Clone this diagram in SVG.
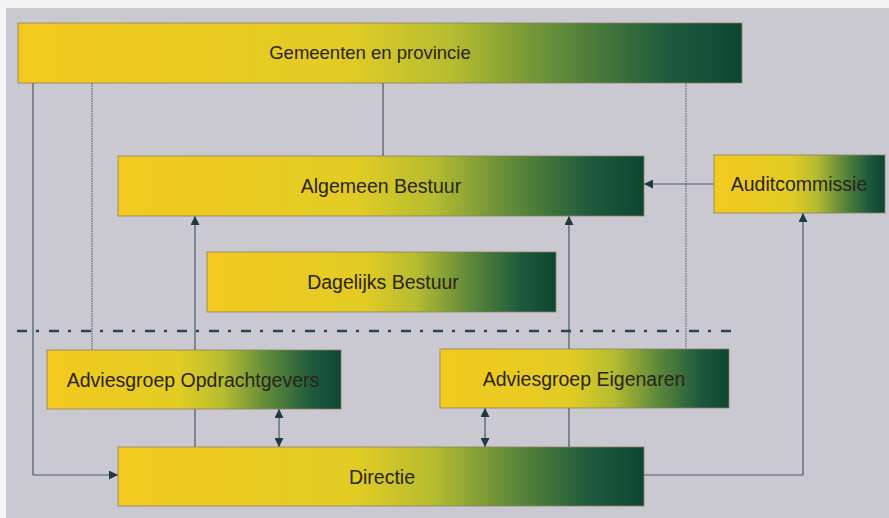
<svg xmlns="http://www.w3.org/2000/svg" width="889" height="518" viewBox="0 0 889 518">
<defs>
<linearGradient id="g" x1="0" y1="0" x2="1" y2="0">
<stop offset="0" stop-color="#f3c91f"/>
<stop offset="0.45" stop-color="#e2cc24"/>
<stop offset="0.6" stop-color="#b5bc30"/>
<stop offset="0.75" stop-color="#5f8a3a"/>
<stop offset="0.9" stop-color="#1d5a3c"/>
<stop offset="1" stop-color="#0c4632"/>
</linearGradient>
<marker id="ah" viewBox="0 0 10 10" refX="10" refY="5" markerWidth="9" markerHeight="9" markerUnits="userSpaceOnUse" orient="auto-start-reverse">
<path d="M0,0 L10,5 L0,10 Z" fill="#1f3a40"/>
</marker>
<style>
.box{fill:url(#g);stroke:#8a8060;stroke-width:0.8}
.t{font-family:"Liberation Sans",Arial,sans-serif;font-size:19.5px;fill:#2a2418;text-anchor:middle}
.c{fill:none;stroke:#4a5868;stroke-width:1.2}
.d{fill:none;stroke:#5a6878;stroke-width:1.2;stroke-dasharray:1.5 1}
.a{marker-end:url(#ah)}
.b{marker-start:url(#ah);marker-end:url(#ah)}
</style>
</defs>
<rect x="0" y="0" width="889" height="518" fill="#f4f4f6"/>
<rect x="6" y="8" width="883" height="510" fill="#cac8d0"/>
<g id="connectors">
<path class="c a" d="M33,83 V475 H118"/>
<path class="d" d="M92,83 V350"/>
<path class="c" d="M383,83 V156"/>
<path class="d" d="M686,83 V349"/>
<path class="c a" d="M714,184 H644"/>
<path class="c a" d="M195,447 V216"/>
<path class="c a" d="M569,447 V216"/>
<path class="c a" d="M644,475 H803 V213"/>
<path class="c b" d="M279,409 V447"/>
<path class="c b" d="M485,408 V447"/>
<path d="M17,331 H737" fill="none" stroke="#2a4850" stroke-width="2.5" stroke-dasharray="10 9 3 10"/>
</g>
<g id="gemeenten"><rect class="box" x="18" y="23" width="724" height="60"/><text class="t" x="370" y="59" style="font-size:18.5px">Gemeenten en provincie</text></g>
<g id="algemeen"><rect class="box" x="118" y="156" width="526" height="60"/><text class="t" x="381" y="193">Algemeen Bestuur</text></g>
<g id="audit"><rect class="box" x="714" y="155" width="171" height="58"/><text class="t" x="799" y="191">Auditcommissie</text></g>
<g id="dagelijks"><rect class="box" x="207" y="252" width="349" height="60"/><text class="t" x="383" y="289">Dagelijks Bestuur</text></g>
<g id="opdrachtgevers"><rect class="box" x="47" y="350" width="294" height="59"/><text class="t" x="193" y="387">Adviesgroep Opdrachtgevers</text></g>
<g id="eigenaren"><rect class="box" x="440" y="349" width="289" height="59"/><text class="t" x="584" y="386">Adviesgroep Eigenaren</text></g>
<g id="directie"><rect class="box" x="118" y="447" width="526" height="59"/><text class="t" x="382" y="484">Directie</text></g>
</svg>
